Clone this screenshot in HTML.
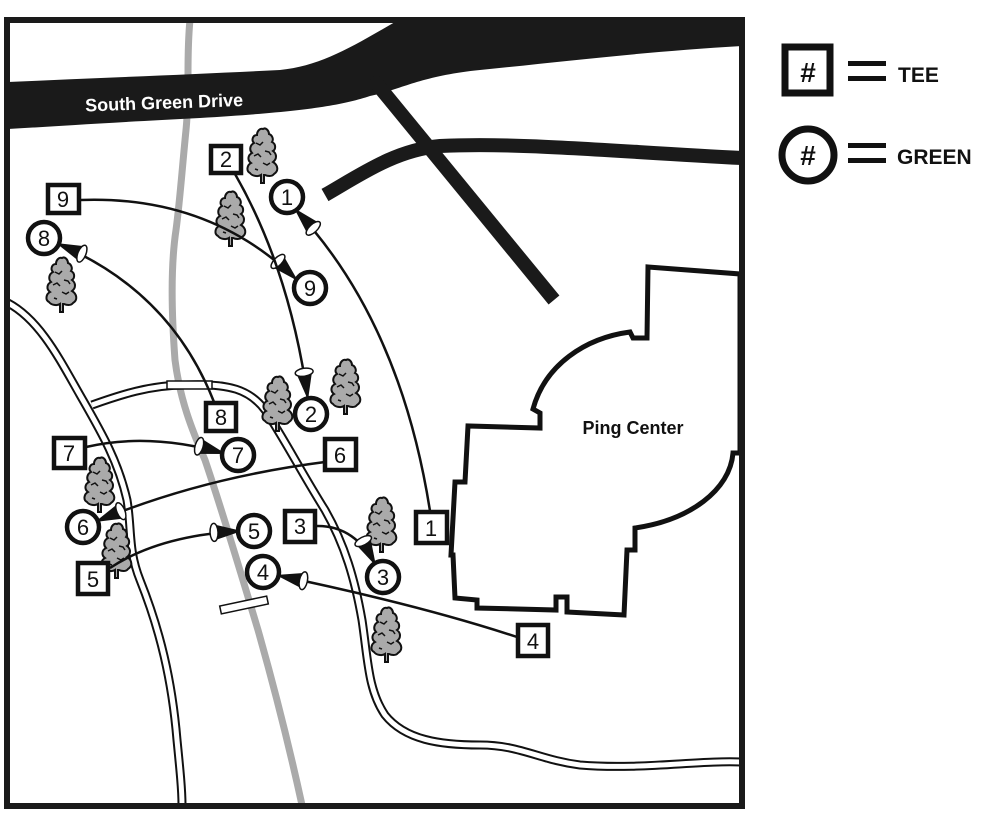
<!DOCTYPE html>
<html><head><meta charset="utf-8"><style>
html,body{margin:0;padding:0;background:#fff;}
svg{display:block;}
text{font-family:"Liberation Sans",sans-serif;}
</style></head><body>
<svg width="1000" height="824" viewBox="0 0 1000 824" xmlns="http://www.w3.org/2000/svg">
<defs>
<marker id="ah" markerUnits="userSpaceOnUse" markerWidth="80" markerHeight="80" refX="28" refY="0" orient="auto" overflow="visible">
<polygon points="0,-8 28,0 0,8" fill="#111"/>
<ellipse cx="0" cy="0" rx="4" ry="9" fill="#fff" stroke="#111" stroke-width="1.5"/>
</marker>
<g id="tree">
<path d="M0,0 C3,-2 6,2 6,5 C9,6 11,10 9,13 C13,15 13,20 10,22 C14,25 14,30 10,33 C15,36 16,42 11,45 C9,48 4,47 2,46 L1,46 L1,54 L-2,54 L-2,46 C-5,48 -11,47 -13,44 C-17,42 -16,36 -12,34 C-16,31 -15,26 -11,24 C-14,21 -13,16 -9,14 C-12,11 -10,6 -6,6 C-6,2 -3,-1 0,0 Z" fill="#aaa" stroke="#111" stroke-width="2"/>
<path d="M-7,14 l4,2 l3,-3 M2,22 l4,1 l2,3 M-9,27 l4,-2 l3,3 M0,34 l4,2 l3,-2 M-8,40 l3,1" fill="none" stroke="#111" stroke-width="1.5"/>
</g>
</defs>
<rect width="1000" height="824" fill="#fff"/>

<path d="M190,20 C186,60 190,90 186,130 C182,170 180,200 176,230 C170,270 172,320 175,360 C180,400 192,430 205,460 C222,510 240,570 258,630 C275,690 290,750 302,805" fill="none" stroke="#aaa" stroke-width="7"/>

<g fill="none">
<path d="M8,303 C40,320 60,360 80,395 C100,430 118,460 127,500 C132,530 128,550 140,580 C160,630 172,680 177,740 C180,770 182,790 182,805" stroke="#111" stroke-width="9"/>
<path d="M8,303 C40,320 60,360 80,395 C100,430 118,460 127,500 C132,530 128,550 140,580 C160,630 172,680 177,740 C180,770 182,790 182,805" stroke="#fff" stroke-width="5"/>
<path d="M92,405 C120,395 150,385 185,385 C230,383 250,390 265,410 C285,440 300,470 325,510 C345,545 355,580 362,620 C368,660 368,690 385,715 C405,740 440,745 480,745 C520,745 540,760 580,765 C640,770 700,760 742,762" stroke="#111" stroke-width="9"/>
<path d="M92,405 C120,395 150,385 185,385 C230,383 250,390 265,410 C285,440 300,470 325,510 C345,545 355,580 362,620 C368,660 368,690 385,715 C405,740 440,745 480,745 C520,745 540,760 580,765 C640,770 700,760 742,762" stroke="#fff" stroke-width="5"/>
</g>
<rect x="167" y="381" width="45" height="8" fill="#fff" stroke="#111" stroke-width="1.5"/>
<rect x="220" y="601" width="48" height="8" fill="#fff" stroke="#111" stroke-width="1.5" transform="rotate(-12 244 605)"/>

<path d="M8,82 C100,78 200,74 280,70 C320,66 350,48 395,22 L742,20 L742,46 C640,52 560,62 480,70 C420,76 400,90 370,96 C340,106 300,112 200,118 C120,122 60,126 8,129 Z" fill="#1a1a1a"/>
<text x="85" y="108" fill="#fff" font-size="18" font-weight="bold" transform="rotate(-2 185 100)">South Green Drive</text>

<line x1="372" y1="78" x2="554" y2="300" stroke="#1a1a1a" stroke-width="14"/>
<path d="M325,195 C360,175 395,150 440,146 C520,142 620,152 742,158" fill="none" stroke="#1a1a1a" stroke-width="14"/>

<path d="M648,267 L740,274 L740,453 L733,453 C730,490 690,520 635,528 L635,550 L627,550 L624,615 L567,612 L567,597 L556,597 L556,610 L477,608 L477,600 L455,598 L453,555 L451,555 L455,482 L465,482 L468,426 L540,428 L540,413 L533,409 C545,365 585,338 630,332 L633,338 L647,338 Z" fill="#fff" stroke="#111" stroke-width="5"/>
<text x="633" y="434" font-size="18" font-weight="bold" text-anchor="middle" fill="#111">Ping Center</text>

<rect x="7" y="20" width="735" height="786" fill="none" stroke="#1a1a1a" stroke-width="6"/>

<use href="#tree" x="263" y="129"/>
<use href="#tree" x="231" y="192"/>
<use href="#tree" x="62" y="258"/>
<use href="#tree" x="346" y="360"/>
<use href="#tree" x="278" y="377"/>
<use href="#tree" x="100" y="458"/>
<use href="#tree" x="117" y="524"/>
<use href="#tree" x="382" y="498"/>
<use href="#tree" x="387" y="608"/>

<g fill="none" stroke="#111" stroke-width="2.5" marker-end="url(#ah)">
<path d="M80,200 Q210,195 298,281"/>
<path d="M235,174 Q290,270 308,400"/>
<path d="M430,511 Q400,320 294,208"/>
<path d="M214,402 Q170,290 56,243"/>
<path d="M86,447 Q150,432 226,454"/>
<path d="M325,462 Q200,478 95,522"/>
<path d="M110,568 Q160,535 242,531"/>
<path d="M316,526 Q355,525 376,566"/>
<path d="M517,637 Q420,605 276,575"/>
</g>

<g fill="#fff" stroke="#111" stroke-width="4.5">
<rect x="211" y="146" width="30" height="27"/>
<rect x="48" y="185" width="31" height="28"/>
<rect x="206" y="403" width="30" height="28"/>
<rect x="54" y="438" width="31" height="30"/>
<rect x="325" y="439" width="31" height="31"/>
<rect x="285" y="511" width="30" height="31"/>
<rect x="416" y="512" width="31" height="31"/>
<rect x="78" y="563" width="30" height="31"/>
<rect x="518" y="625" width="30" height="31"/>
</g>
<g fill="#fff" stroke="#111" stroke-width="4.5">
<circle cx="287" cy="197" r="16"/>
<circle cx="44" cy="238" r="16"/>
<circle cx="310" cy="288" r="16"/>
<circle cx="311" cy="414" r="16"/>
<circle cx="238" cy="455" r="16"/>
<circle cx="83" cy="527" r="16"/>
<circle cx="254" cy="531" r="16"/>
<circle cx="263" cy="572" r="16"/>
<circle cx="383" cy="577" r="16"/>
</g>
<g font-size="22" fill="#111" text-anchor="middle">
<text x="226" y="167">2</text>
<text x="63" y="207">9</text>
<text x="221" y="425">8</text>
<text x="69" y="461">7</text>
<text x="340" y="463">6</text>
<text x="300" y="534">3</text>
<text x="431" y="536">1</text>
<text x="93" y="587">5</text>
<text x="533" y="649">4</text>
<text x="287" y="205">1</text>
<text x="44" y="246">8</text>
<text x="310" y="296">9</text>
<text x="311" y="422">2</text>
<text x="238" y="463">7</text>
<text x="83" y="535">6</text>
<text x="254" y="539">5</text>
<text x="263" y="580">4</text>
<text x="383" y="585">3</text>
</g>

<rect x="785" y="47" width="45" height="46" fill="#fff" stroke="#111" stroke-width="7"/>
<text x="808" y="82" font-size="28" font-weight="bold" text-anchor="middle" fill="#111">#</text>
<rect x="848" y="61" width="38" height="5" fill="#111"/>
<rect x="848" y="76" width="38" height="5" fill="#111"/>
<text x="898" y="82" font-size="21" font-weight="bold" fill="#111">TEE</text>
<circle cx="808" cy="155" r="26" fill="#fff" stroke="#111" stroke-width="7"/>
<text x="808" y="165" font-size="28" font-weight="bold" text-anchor="middle" fill="#111">#</text>
<rect x="848" y="143" width="38" height="5" fill="#111"/>
<rect x="848" y="158" width="38" height="5" fill="#111"/>
<text x="897" y="164" font-size="21" font-weight="bold" fill="#111">GREEN</text>
</svg>
</body></html>
